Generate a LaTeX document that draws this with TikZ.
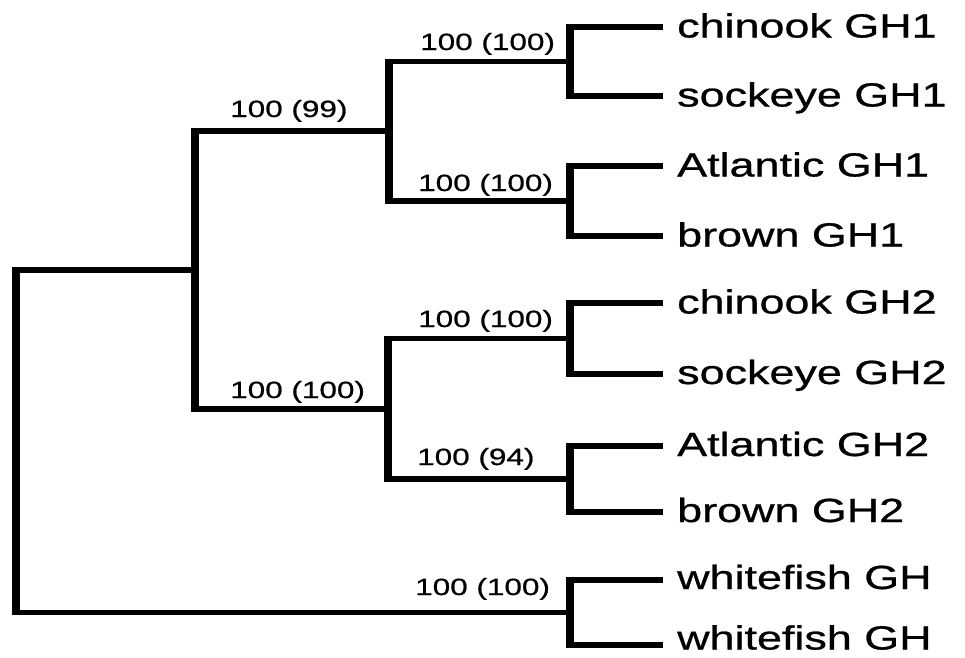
\documentclass[tikz,border=0pt]{standalone}
\usepackage{fontspec}
\newfontfamily\leaffont[FakeStretch=1.34,FakeBold=0.8]{Liberation Sans}
\tikzset{
  hline/.style={line width=5.5pt},
  vline/.style={line width=8pt, shorten <=-2.75pt, shorten >=-2.75pt},
  leaf/.style={anchor=base west, inner sep=0pt, font=\leaffont\fontsize{33.5}{40}\selectfont},
  supp/.style={anchor=base west, inner sep=0pt, font=\leaffont\fontsize{23.5}{28}\selectfont}
}
\begin{document}
\begin{tikzpicture}[x=1pt,y=-1pt]
\useasboundingbox[fill=white] (0,0) rectangle (965,657);
% leaf end points
\coordinate (e1) at (663,27);
\coordinate (e2) at (663,96);
\coordinate (e3) at (663,166);
\coordinate (e4) at (663,236);
\coordinate (e5) at (663,303);
\coordinate (e6) at (663,374);
\coordinate (e7) at (663,446);
\coordinate (e8) at (663,512);
\coordinate (e9) at (663,580);
\coordinate (e10) at (663,645);
% internal nodes
\coordinate (t1) at (570,61.5);
\coordinate (t2) at (570,201);
\coordinate (t3) at (570,338.5);
\coordinate (t4) at (570,479);
\coordinate (t5) at (570,612.5);
\coordinate (g1) at (389,131);
\coordinate (g2) at (388,409);
\coordinate (u) at (195,270);
\coordinate (r) at (16,441);
% leaf labels
\node[leaf] (n1) at (677,37.5) {chinook GH1};
\node[leaf] (n2) at (677,106.5) {sockeye GH1};
\node[leaf] (n3) at (677,176.5) {Atlantic GH1};
\node[leaf] (n4) at (677,246.5) {brown GH1};
\node[leaf] (n5) at (677,313.5) {chinook GH2};
\node[leaf] (n6) at (677,384) {sockeye GH2};
\node[leaf] (n7) at (677,456) {Atlantic GH2};
\node[leaf] (n8) at (677,522) {brown GH2};
\node[leaf] (n9) at (677,589) {whitefish GH};
\node[leaf] (n10) at (677,649.5) {whitefish GH};
% terminal clades
\foreach \t/\a/\b in {t1/e1/e2, t2/e3/e4, t3/e5/e6, t4/e7/e8, t5/e9/e10}{
  \draw[vline] (\t |- \a) -- (\t |- \b);
  \draw[hline] (\t |- \a) -- (\a);
  \draw[hline] (\t |- \b) -- (\b);
}
% GH1 / GH2 clades
\draw[vline] (g1 |- t1) -- (g1 |- t2);
\draw[hline] (g1 |- t1) -- (t1);
\draw[hline] (g1 |- t2) -- (t2);
\draw[vline] (g2 |- t3) -- (g2 |- t4);
\draw[hline] (g2 |- t3) -- (t3);
\draw[hline] (g2 |- t4) -- (t4);
% upper clade
\draw[vline] (u |- g1) -- (u |- g2);
\draw[hline] (u |- g1) -- (g1);
\draw[hline] (u |- g2) -- (g2);
% root
\draw[vline] (r |- u) -- (r |- t5);
\draw[hline] (r |- u) -- (u);
\draw[hline] (r |- t5) -- (t5);
% support values
\node[supp] (s1) at (420,50) {100 (100)};
\node[supp] (s2) at (230,117) {100 (99)};
\node[supp] (s3) at (418,191) {100 (100)};
\node[supp] (s4) at (418,327) {100 (100)};
\node[supp] (s5) at (230,398) {100 (100)};
\node[supp] (s6) at (417,465) {100 (94)};
\node[supp] (s7) at (415,595) {100 (100)};
\end{tikzpicture}
\end{document}
